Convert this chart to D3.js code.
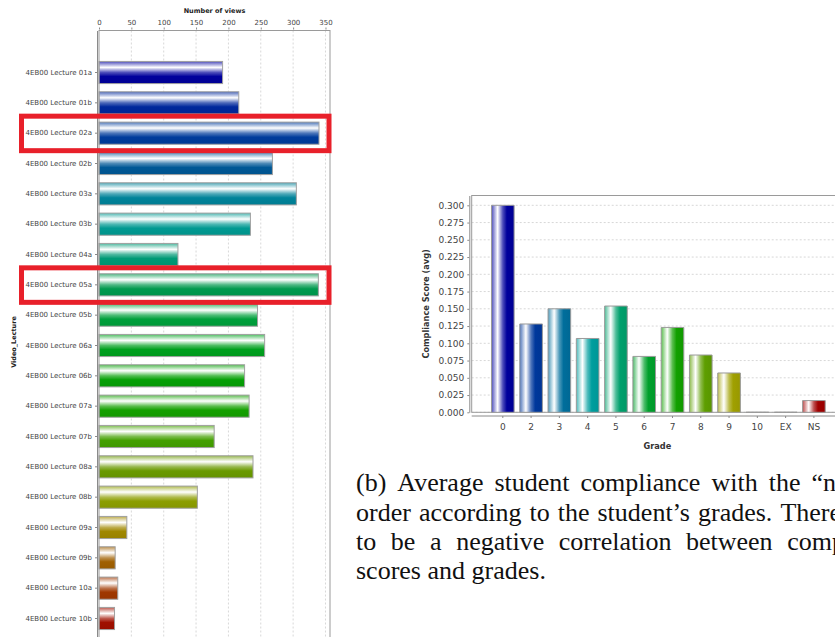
<!DOCTYPE html>
<html><head><meta charset="utf-8">
<script src="https://cdn.jsdelivr.net/npm/d3@7"></script>
<style>body{margin:0;background:#fff}svg{display:block}</style>
</head><body><svg id="c" width="835" height="637"></svg>
<script>
// ---------- data: left chart ----------
const lectures = ["4EB00 Lecture 01a","4EB00 Lecture 01b","4EB00 Lecture 02a","4EB00 Lecture 02b",
  "4EB00 Lecture 03a","4EB00 Lecture 03b","4EB00 Lecture 04a","4EB00 Lecture 05a","4EB00 Lecture 05b",
  "4EB00 Lecture 06a","4EB00 Lecture 06b","4EB00 Lecture 07a","4EB00 Lecture 07b","4EB00 Lecture 08a",
  "4EB00 Lecture 08b","4EB00 Lecture 09a","4EB00 Lecture 09b","4EB00 Lecture 10a","4EB00 Lecture 10b"];
const views = [191,216,340,268,305,234,122,339,245,256,225,232,178,238,152,43,25,29,24];
const lectureColors = ["#00009c","#00289c","#003c9c","#005896","#00839a","#009a92","#009a76","#009a4e",
  "#00a03c","#00a01e","#06a006","#14a000","#44a000","#6a9a00","#8c9e00","#a08800","#a06000","#a03800","#a01000"];
const viewTicks = [0,50,100,150,200,250,300,350];
const highlighted = ["4EB00 Lecture 02a","4EB00 Lecture 05a"];

// ---------- data: right chart ----------
const grades = ["0","2","3","4","5","6","7","8","9","10","EX","NS"];
const compliance = [0.300,0.128,0.150,0.107,0.154,0.081,0.123,0.083,0.057,0,0,0.017];
const gradeColors = ["#00009c","#00389c","#006e9c","#009e9e","#00a06c","#00a02c","#12a000","#5e9e00","#a0a000","#a0a000","#a0a000","#a00000"];
const complianceTicks = [0,0.025,0.05,0.075,0.1,0.125,0.15,0.175,0.2,0.225,0.25,0.275,0.3];

// ---------- caption ----------
const captionLines = [
  ["(b)","Average","student","compliance","with","the","\u201Cn"],
  ["order","according","to","the","student\u2019s","grades.","There"],
  ["to","be","a","negative","correlation","between","compliance"],
  ["scores","and","grades."]
];

const svg = d3.select("#c");
const defs = svg.append("defs");
const FONT = "DejaVu Sans, sans-serif";
const GRID = "#d8d8d8", AXIS = "#8a8a8a", TXT = "#444";

function gradient(id, base, vertical) {
  const c = d3.color(base);
  const mid = d3.interpolateRgb(base, "#ffffff")(0.3);
  const g = defs.append("linearGradient").attr("id", id)
    .attr("x1", 0).attr("y1", 0).attr("x2", vertical ? 1 : 0).attr("y2", vertical ? 0 : 1);
  [[0, mid],[0.27,"#ffffff"],[0.5, mid],[0.68, c.formatHex()],[1, c.darker(0.15).formatHex()]]
    .forEach(([o, col]) => g.append("stop").attr("offset", o).attr("stop-color", col));
}
function styleAxis(g, size) {
  g.selectAll("path,line").attr("stroke", AXIS);
  g.selectAll("text").attr("fill", TXT).style("font-family", FONT).style("font-size", size + "px");
}

// ================= LEFT CHART =================
const L = {left: 99, right: 330, top: 30.5, bottom: 660.5};
const x = d3.scaleLinear().domain([0, 357]).range([L.left, L.right]);
const y = d3.scaleBand().domain(lectures).range([L.top, L.bottom]).paddingInner(0.27).paddingOuter(1.02);

const left = svg.append("g");
left.append("g").selectAll("line").data(viewTicks.slice(1)).join("line")
  .attr("x1", d => x(d)).attr("x2", d => x(d)).attr("y1", L.top).attr("y2", 637)
  .attr("stroke", GRID).attr("stroke-dasharray", "2,2");

lectures.forEach((d, i) => gradient("lg" + i, lectureColors[i], false));
left.append("g").selectAll("rect").data(lectures).join("rect")
  .attr("x", x(0)).attr("y", d => y(d))
  .attr("width", (d, i) => x(views[i]) - x(0)).attr("height", y.bandwidth())
  .attr("fill", (d, i) => `url(#lg${i})`).attr("stroke", "#a0a0a0").attr("stroke-width", 1);

left.append("rect").attr("x", L.left).attr("y", L.top).attr("width", L.right - L.left).attr("height", 700)
  .attr("fill", "none").attr("stroke", "#9a9a9a");

const xa = left.append("g").attr("transform", `translate(0,${L.top - 1})`)
  .call(d3.axisTop(x).tickValues(viewTicks).tickSize(2).tickSizeOuter(0).tickPadding(3));
xa.select(".domain").remove();
styleAxis(xa, 7);
const ya = left.append("g").attr("transform", `translate(${L.left - 2},0)`)
  .call(d3.axisLeft(y).tickSize(2).tickSizeOuter(0).tickPadding(3));
styleAxis(ya, 7);

left.append("text").attr("x", (L.left + L.right) / 2).attr("y", 13).attr("text-anchor", "middle")
  .style("font-family", FONT).style("font-size", "6.5px").style("font-weight", "bold").attr("fill", "#222")
  .text("Number of views");
left.append("text").attr("transform", "translate(16,342) rotate(-90)").attr("text-anchor", "middle")
  .style("font-family", FONT).style("font-size", "6.5px").style("font-weight", "bold").attr("fill", "#222")
  .text("Video_Lecture");

// red highlight boxes
left.append("g").selectAll("rect").data(highlighted).join("rect")
  .attr("x", 21.5).attr("y", d => y(d) + y.bandwidth() / 2 - 17)
  .attr("width", 307.5).attr("height", 34.5)
  .attr("fill", "none").attr("stroke", "#e8202a").attr("stroke-width", 5);

// ================= RIGHT CHART =================
const R = {left: 471.7, right: 845, top: 195.5, bottom: 412.3};
const yr = d3.scaleLinear().domain([0, 0.3142]).range([R.bottom, R.top]);
const xr = d3.scaleBand().domain(grades).range([R.left, R.right]).paddingInner(0.2).paddingOuter(0.7);
const right = svg.append("g");

right.append("g").selectAll("line").data(complianceTicks).join("line")
  .attr("x1", R.left).attr("x2", 835).attr("y1", d => yr(d)).attr("y2", d => yr(d))
  .attr("stroke", GRID).attr("stroke-dasharray", "2,2");
right.append("rect").attr("x", R.left).attr("y", R.top).attr("width", R.right - R.left).attr("height", R.bottom - R.top)
  .attr("fill", "none").attr("stroke", "#9a9a9a");

grades.forEach((d, i) => gradient("rg" + i, gradeColors[i], true));
right.append("g").selectAll("path").data(grades).join("path")
  .attr("d", (d, i) => {
    const x0 = xr(d), w = xr.bandwidth(), y0 = yr(compliance[i]), h = yr(0) - yr(compliance[i]);
    return `M${x0},${y0}h${w}v${h}h${-w}Z`;
  })
  .attr("fill", (d, i) => `url(#rg${i})`).attr("stroke", "#9a9a9a").attr("stroke-width", 1);

const yra = right.append("g").attr("transform", `translate(${R.left - 2.4},0)`)
  .call(d3.axisLeft(yr).tickValues(complianceTicks).tickFormat(d3.format(".3f")).tickSize(2).tickSizeOuter(0).tickPadding(3));
styleAxis(yra, 9);
const xra = right.append("g").attr("transform", `translate(0,${R.bottom + 3.7})`)
  .call(d3.axisBottom(xr).tickSize(2).tickSizeOuter(0).tickPadding(6));
xra.select(".domain").attr("d", `M${R.left},0H835`);
styleAxis(xra, 9);

right.append("text").attr("x", (R.left + R.right) / 2 - 1).attr("y", 448.5).attr("text-anchor", "middle")
  .style("font-family", FONT).style("font-size", "8.2px").style("font-weight", "bold").attr("fill", "#333")
  .text("Grade");
right.append("text").attr("transform", `translate(429,${(R.top + R.bottom) / 2}) rotate(-90)`).attr("text-anchor", "middle")
  .style("font-family", FONT).style("font-size", "8.2px").style("font-weight", "bold").attr("fill", "#333")
  .text("Compliance Score (avg)");

// ================= CAPTION (justified lines, clipped at the page edge) =================
const capLeft = 356;
const baselines = [491, 520.5, 550, 578.5];
// [word count, chars of last word that must fit, x where they end] (null = natural spacing)
const lineEnd = [[7, 2, 836], [7, 5, 841], [7, 3, 832], null];
const cap = svg.append("g").style("font-family", "Liberation Serif, serif").style("font-size", "26px").attr("fill", "#111");
captionLines.forEach((words, li) => {
  const texts = cap.append("g").selectAll("text").data(words).join("text").attr("y", baselines[li]).text(w => w);
  const nodes = texts.nodes();
  const widths = nodes.map(n => n.getComputedTextLength());
  let gap = 6.5;
  const spec = lineEnd[li];
  if (spec) {
    const [n, chars, endX] = spec;
    const lastPart = nodes[n - 1].getSubStringLength(0, chars);
    const used = d3.sum(widths.slice(0, n - 1)) + lastPart;
    gap = (endX - capLeft - used) / (n - 1);
  }
  let cx = capLeft;
  nodes.forEach((node, i) => { d3.select(node).attr("x", cx); cx += widths[i] + gap; });
});
</script></body></html>
